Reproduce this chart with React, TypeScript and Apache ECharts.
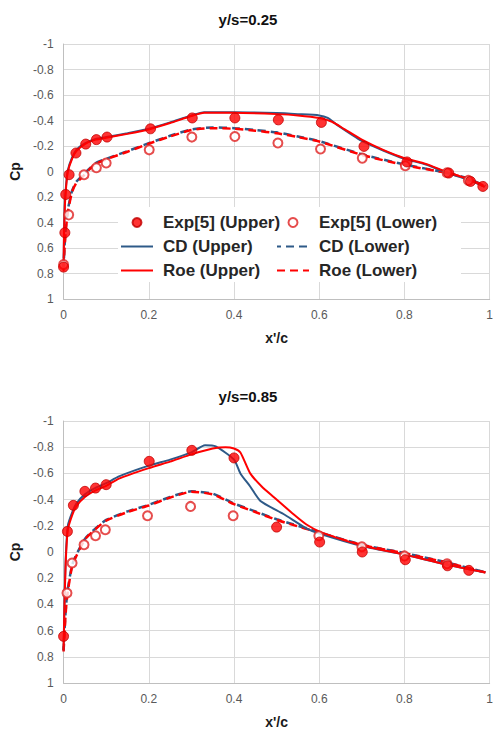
import React, { useEffect, useRef } from "react";
import * as echarts from "echarts";

// ---------- y/s = 0.25 ----------
const topExpUpper = [[0, 0.75], [0.003, 0.48], [0.005, 0.18], [0.013, 0.025], [0.029, -0.145], [0.052, -0.215], [0.077, -0.25], [0.102, -0.27], [0.204, -0.335], [0.302, -0.42], [0.402, -0.42], [0.504, -0.405], [0.605, -0.385], [0.705, -0.197], [0.806, -0.075], [0.904, 0.012], [0.955, 0.078], [0.984, 0.117]];
const topExpLower = [[0, 0.73], [0.012, 0.34], [0.048, 0.025], [0.077, -0.03], [0.1, -0.067], [0.201, -0.17], [0.301, -0.27], [0.402, -0.275], [0.503, -0.223], [0.603, -0.176], [0.701, -0.105], [0.802, -0.045], [0.9, 0.01], [0.95, 0.07]];
const topCdUpper = [[0, 0.75], [0.001, 0.5], [0.003, 0.25], [0.006, 0.1], [0.01, -0.01], [0.02, -0.11], [0.03, -0.17], [0.05, -0.22], [0.075, -0.255], [0.1, -0.27], [0.15, -0.3], [0.2, -0.335], [0.25, -0.385], [0.3, -0.44], [0.33, -0.465], [0.4, -0.465], [0.5, -0.458], [0.55, -0.45], [0.6, -0.44], [0.62, -0.42], [0.64, -0.37], [0.7, -0.24], [0.75, -0.165], [0.8, -0.1], [0.85, -0.055], [0.9, 0.01], [0.95, 0.065], [0.988, 0.12]];
const topRoeUpper = [[0, 0.78], [0.001, 0.5], [0.003, 0.27], [0.006, 0.12], [0.01, 0.0], [0.02, -0.1], [0.03, -0.16], [0.05, -0.215], [0.075, -0.25], [0.1, -0.265], [0.15, -0.295], [0.2, -0.33], [0.25, -0.38], [0.3, -0.435], [0.33, -0.46], [0.4, -0.46], [0.5, -0.45], [0.55, -0.44], [0.6, -0.42], [0.63, -0.39], [0.66, -0.33], [0.7, -0.25], [0.75, -0.17], [0.8, -0.105], [0.85, -0.06], [0.9, 0.005], [0.95, 0.06], [0.988, 0.12]];
const topCdLower = [[0, 0.75], [0.002, 0.6], [0.005, 0.45], [0.01, 0.3], [0.02, 0.15], [0.03, 0.08], [0.045, 0.03], [0.06, -0.02], [0.075, -0.065], [0.1, -0.1], [0.15, -0.16], [0.2, -0.222], [0.25, -0.28], [0.3, -0.33], [0.35, -0.345], [0.4, -0.34], [0.45, -0.325], [0.5, -0.307], [0.55, -0.275], [0.6, -0.238], [0.7, -0.135], [0.8, -0.055], [0.9, 0.01], [0.95, 0.055], [0.99, 0.115]];
const topRoeLower = [[0, 0.76], [0.002, 0.62], [0.005, 0.47], [0.01, 0.32], [0.02, 0.16], [0.03, 0.09], [0.045, 0.04], [0.06, -0.015], [0.075, -0.06], [0.1, -0.095], [0.15, -0.155], [0.2, -0.218], [0.25, -0.275], [0.3, -0.325], [0.35, -0.34], [0.4, -0.335], [0.45, -0.32], [0.5, -0.3], [0.55, -0.27], [0.6, -0.235], [0.7, -0.13], [0.8, -0.05], [0.9, 0.012], [0.95, 0.058], [0.99, 0.118]];

// ---------- y/s = 0.85 ----------
const botExpUpper = [[0, 0.644], [0.009, -0.157], [0.023, -0.356], [0.05, -0.463], [0.075, -0.488], [0.1, -0.514], [0.201, -0.692], [0.301, -0.776], [0.4, -0.718], [0.5, -0.19], [0.601, -0.076], [0.701, 0.0], [0.802, 0.059], [0.901, 0.105], [0.951, 0.14]];
const botExpLower = [[0.008, 0.313], [0.02, 0.084], [0.048, -0.056], [0.075, -0.124], [0.098, -0.17], [0.197, -0.277], [0.298, -0.348], [0.398, -0.277], [0.599, -0.124], [0.7, -0.04], [0.8, 0.03], [0.9, 0.09]];
const botCdUpper = [[0, 0.75], [0.002, 0.4], [0.005, 0.05], [0.01, -0.2], [0.02, -0.3], [0.03, -0.37], [0.05, -0.44], [0.075, -0.49], [0.1, -0.525], [0.13, -0.577], [0.2, -0.659], [0.25, -0.705], [0.3, -0.76], [0.332, -0.815], [0.357, -0.806], [0.4, -0.705], [0.415, -0.6], [0.438, -0.5], [0.462, -0.39], [0.516, -0.29], [0.57, -0.18], [0.6, -0.14], [0.7, -0.045], [0.8, 0.02], [0.9, 0.097], [0.99, 0.155]];
const botRoeUpper = [[0, 0.75], [0.002, 0.42], [0.005, 0.08], [0.01, -0.17], [0.02, -0.28], [0.03, -0.35], [0.05, -0.42], [0.075, -0.47], [0.1, -0.505], [0.13, -0.56], [0.2, -0.64], [0.25, -0.69], [0.3, -0.745], [0.35, -0.79], [0.38, -0.8], [0.4, -0.79], [0.415, -0.76], [0.438, -0.6], [0.465, -0.5], [0.493, -0.42], [0.539, -0.29], [0.57, -0.21], [0.605, -0.15], [0.7, -0.05], [0.8, 0.02], [0.9, 0.097], [0.99, 0.155]];
const botCdLower = [[0, 0.75], [0.003, 0.55], [0.006, 0.4], [0.01, 0.28], [0.02, 0.1], [0.03, 0.02], [0.05, -0.1], [0.075, -0.18], [0.1, -0.245], [0.15, -0.31], [0.2, -0.36], [0.25, -0.42], [0.3, -0.463], [0.35, -0.445], [0.4, -0.37], [0.45, -0.31], [0.5, -0.25], [0.53, -0.22], [0.6, -0.15], [0.7, -0.056], [0.8, 0.008], [0.9, 0.08], [0.99, 0.155]];
const botRoeLower = [[0, 0.76], [0.003, 0.57], [0.006, 0.42], [0.01, 0.3], [0.02, 0.11], [0.03, 0.03], [0.05, -0.095], [0.075, -0.175], [0.1, -0.24], [0.15, -0.305], [0.2, -0.355], [0.25, -0.415], [0.3, -0.46], [0.35, -0.44], [0.4, -0.365], [0.45, -0.305], [0.5, -0.245], [0.53, -0.215], [0.6, -0.148], [0.7, -0.054], [0.8, 0.01], [0.9, 0.082], [0.99, 0.157]];

const titles = ["y/s=0.25", "y/s=0.85"];
const names = ["Exp[5] (Upper)", "Exp[5] (Lower)", "CD (Upper)", "CD (Lower)", "Roe (Upper)", "Roe (Lower)"];

const RED = "#ff0000";
const BLUE = "#2e5a88";
const FONT = "Liberation Sans, Arial, sans-serif";

function seriesFor(gi: number, expU: number[][], expL: number[][], cdU: number[][], cdL: number[][], roeU: number[][], roeL: number[][]) {
  const line = (name: string, data: number[][], color: string, dashed: boolean, offset: number) => ({
    name,
    type: "line",
    xAxisIndex: gi,
    yAxisIndex: gi,
    data,
    symbol: "none",
    showSymbol: false,
    smooth: 0.2,
    z: dashed ? 2 : 3,
    lineStyle: { color, width: dashed ? 2.5 : 2, type: dashed ? [8, 5] : "solid", dashOffset: offset },
    itemStyle: { color },
  });
  return [
    line(names[3], cdL, BLUE, true, 4),
    line(names[5], roeL, RED, true, 0),
    line(names[2], cdU, BLUE, false, 0),
    line(names[4], roeU, RED, false, 0),
    {
      name: names[1],
      type: "scatter",
      xAxisIndex: gi,
      yAxisIndex: gi,
      data: expL,
      symbol: "emptyCircle",
      symbolSize: 9,
      z: 4,
      itemStyle: { color: "#e02020", borderWidth: 1.2 },
    },
    {
      name: names[0],
      type: "scatter",
      xAxisIndex: gi,
      yAxisIndex: gi,
      data: expU,
      symbol: "circle",
      symbolSize: 10,
      z: 5,
      itemStyle: { color: RED, borderColor: "#c00000", borderWidth: 1 },
    },
  ];
}

export default function App() {
  const ref = useRef<HTMLDivElement>(null);
  useEffect(() => {
    if (!ref.current) return;
    const chart = echarts.init(ref.current, null, { renderer: "svg" });
    const grids = [
      { left: 61, width: 431, top: 44, height: 255 },
      { left: 61, width: 431, top: 421, height: 262 },
    ];
    const labelFmt = (v: number) => String(Math.round(v * 10) / 10);
    const xAxes = grids.map((_, i) => ({
      type: "value",
      gridIndex: i,
      min: 0,
      max: 1,
      interval: 0.2,
      name: "x'/c",
      nameLocation: "middle",
      nameGap: 32,
      nameTextStyle: { fontFamily: FONT, fontSize: 14, fontWeight: "bold", color: "#1a1a1a" },
      axisLine: { onZero: false, lineStyle: { color: "#bfbfbf", width: 1 } },
      axisTick: { show: false },
      axisLabel: { color: "#595959", fontFamily: FONT, fontSize: 12, margin: 10, formatter: labelFmt },
      splitLine: { show: true, lineStyle: { color: "#d9d9d9", width: 1 } },
    }));
    const yAxes = grids.map((_, i) => ({
      type: "value",
      gridIndex: i,
      min: -1,
      max: 1,
      interval: 0.2,
      inverse: true,
      name: "Cp",
      nameLocation: "middle",
      nameGap: 40,
      nameTextStyle: { fontFamily: FONT, fontSize: 14, fontWeight: "bold", color: "#1a1a1a" },
      axisLine: { show: true, onZero: false, lineStyle: { color: "#bfbfbf", width: 1 } },
      axisTick: { show: false },
      axisLabel: { color: "#595959", fontFamily: FONT, fontSize: 12, margin: 10, formatter: labelFmt },
      splitLine: { show: true, lineStyle: { color: "#d9d9d9", width: 1 } },
    }));
    const legendCommon = {
      orient: "vertical",
      top: 214,
      itemWidth: 32,
      itemHeight: 9,
      itemGap: 7,
      selectedMode: false,
      padding: 0,
      textStyle: { fontFamily: FONT, fontSize: 17, fontWeight: "bold", color: "#262626", padding: [0, 0, 0, 5] },
    };
    const hideDot = { itemStyle: { opacity: 0 } };
    chart.setOption({
      animation: false,
      backgroundColor: "#fff",
      title: [
        { text: titles[0], left: "center", top: 7, textStyle: { fontFamily: FONT, fontSize: 15, fontWeight: "bold", color: "#111" } },
        { text: titles[1], left: "center", top: 384, textStyle: { fontFamily: FONT, fontSize: 15, fontWeight: "bold", color: "#111" } },
      ],
      graphic: [
        { type: "rect", z: 3, shape: { x: 118, y: 207, width: 343, height: 75 }, style: { fill: "#fff" } },
      ],
      legend: [
        { ...legendCommon, left: 120, data: [{ name: names[0] }, { name: names[2], ...hideDot }, { name: names[4], ...hideDot }] },
        { ...legendCommon, left: 276, data: [{ name: names[1] }, { name: names[3], ...hideDot }, { name: names[5], ...hideDot }] },
      ],
      grid: grids,
      xAxis: xAxes,
      yAxis: yAxes,
      series: [
        ...seriesFor(0, topExpUpper, topExpLower, topCdUpper, topCdLower, topRoeUpper, topRoeLower),
        ...seriesFor(1, botExpUpper, botExpLower, botCdUpper, botCdLower, botRoeUpper, botRoeLower),
      ],
    });
    return () => chart.dispose();
  }, []);
  return <div ref={ref} style={{ position: "absolute", left: 0, top: 0, width: 496, height: 732 }} />;
}
